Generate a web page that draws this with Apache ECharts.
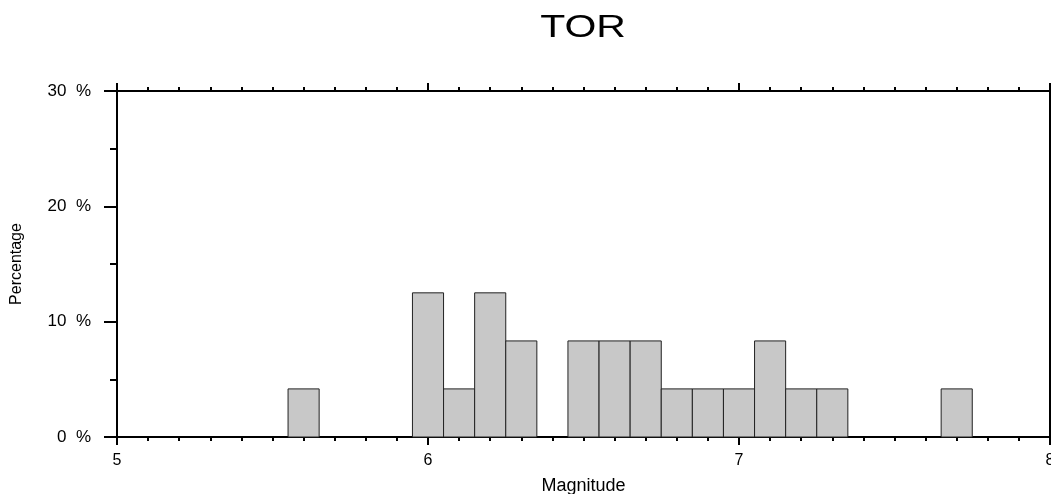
<!DOCTYPE html>
<html>
<head>
<meta charset="utf-8">
<script src="https://cdn.jsdelivr.net/npm/echarts@6/dist/echarts.min.js"></script>
<style>
  html, body { margin: 0; padding: 0; background: #fff; }
  #chart { width: 1051px; height: 494px; }
</style>
</head>
<body>
<div id="chart"></div>
<script>
// bin centres (magnitude) and percentage of events per 0.1 bin
const binCenters = [5.6, 6.0, 6.1, 6.2, 6.3, 6.5, 6.6, 6.7, 6.8, 6.9, 7.0, 7.1, 7.2, 7.3, 7.7]
const percents = [4.17, 12.5, 4.17, 12.5, 8.33, 8.33, 8.33, 8.33, 4.17, 4.17, 4.17, 8.33, 4.17, 4.17, 4.17]
const binWidth = 0.1

const font = 'Liberation Sans, Arial, sans-serif'
const data = binCenters.map((c, i) => [c, percents[i]])

const chart = echarts.init(document.getElementById('chart'))

const axisLine = { show: true, onZero: false, lineStyle: { color: '#000', width: 2 } }
const tickStyle = { color: '#000', width: 2 }

chart.setOption({
  animation: false,
  // title drawn as graphic so it can be widened like the original
  graphic: [
    {
      type: 'text',
      x: 583,
      y: 12,
      scaleX: 1.28,
      style: {
        text: 'TOR',
        align: 'center',
        verticalAlign: 'top',
        fontFamily: font,
        fontSize: 32,
        fill: '#000',
      },
    },
  ],
  grid: { left: 117, right: 1, top: 91, bottom: 57, outerBoundsMode: 'none', containLabel: false },
  xAxis: [
    {
      type: 'value',
      min: 5,
      max: 8,
      interval: 1,
      name: 'Magnitude',
      nameLocation: 'middle',
      nameGap: 40,
      nameTextStyle: { fontFamily: font, fontSize: 18, color: '#000' },
      axisLine: axisLine,
      axisTick: { show: true, length: 8, lineStyle: tickStyle },
      minorTick: { show: true, splitNumber: 10, length: 4, lineStyle: tickStyle },
      axisLabel: { margin: 16, fontFamily: font, fontSize: 16, color: '#000' },
      splitLine: { show: false },
    },
    {
      type: 'value',
      position: 'top',
      min: 5,
      max: 8,
      interval: 1,
      axisLine: axisLine,
      axisTick: { show: true, length: 8, lineStyle: tickStyle },
      minorTick: { show: true, splitNumber: 10, length: 4, lineStyle: tickStyle },
      axisLabel: { show: false },
      splitLine: { show: false },
    },
  ],
  yAxis: [
    {
      type: 'value',
      min: 0,
      max: 30,
      interval: 10,
      name: 'Percentage',
      nameLocation: 'middle',
      nameGap: 92,
      nameTextStyle: { fontFamily: font, fontSize: 16, color: '#000' },
      axisLine: axisLine,
      axisTick: { show: true, length: 13, lineStyle: tickStyle },
      minorTick: { show: true, splitNumber: 2, length: 7, lineStyle: tickStyle },
      axisLabel: { margin: 26, fontFamily: font, fontSize: 17, color: '#000', formatter: '{value}  %' },
      splitLine: { show: false },
    },
    {
      type: 'value',
      position: 'right',
      min: 0,
      max: 30,
      interval: 10,
      axisLine: axisLine,
      axisTick: { show: false },
      axisLabel: { show: false },
      splitLine: { show: false },
    },
  ],
  series: [
    {
      type: 'custom',
      xAxisIndex: 0,
      yAxisIndex: 0,
      data: data,
      renderItem: function (params, api) {
        const c = api.value(0)
        const v = api.value(1)
        const p0 = api.coord([c - binWidth / 2, v])
        const p1 = api.coord([c + binWidth / 2, 0])
        return {
          type: 'rect',
          shape: { x: p0[0], y: p0[1], width: p1[0] - p0[0], height: p1[1] - p0[1] },
          style: { fill: '#c8c8c8', stroke: '#222', lineWidth: 1 },
        }
      },
      z: 1,
    },
  ],
})
</script>
</body>
</html>
